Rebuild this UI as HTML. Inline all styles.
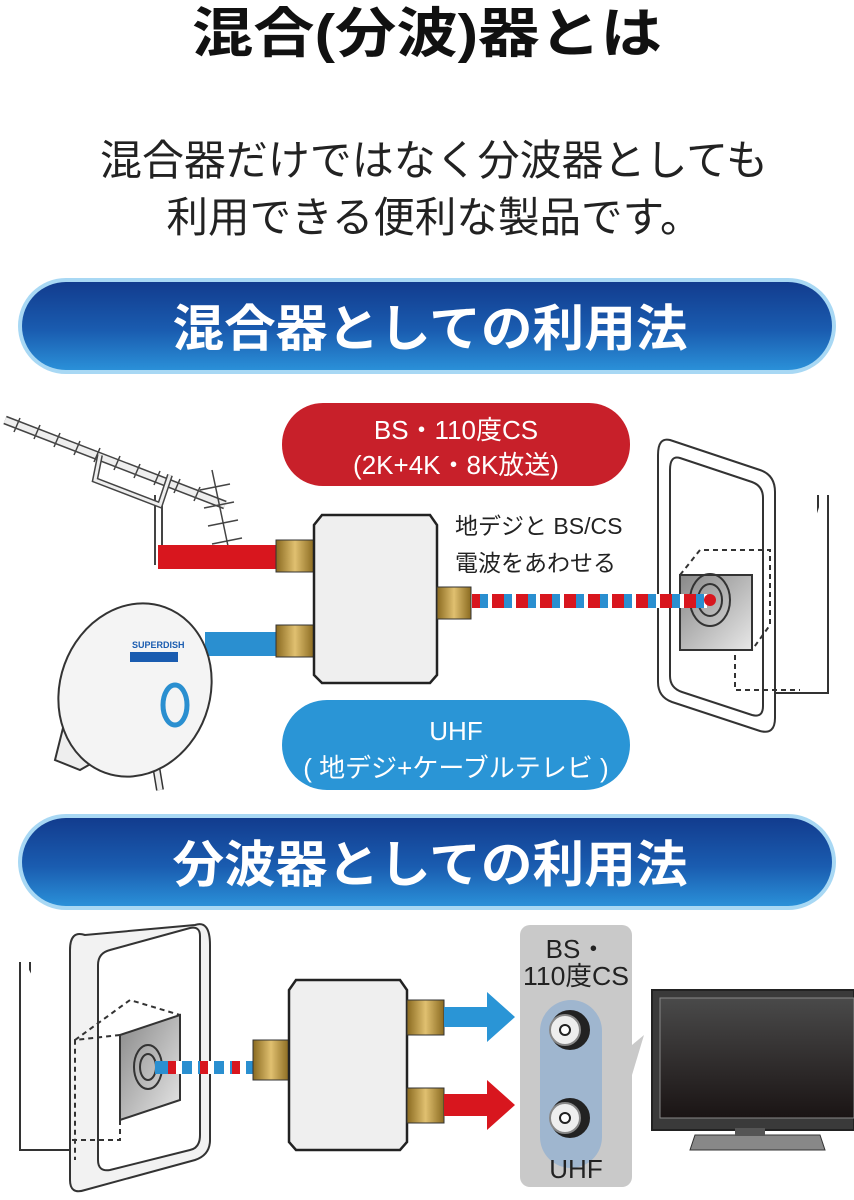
<!DOCTYPE html>
<html><head><meta charset="utf-8"><style>
html,body{margin:0;padding:0;background:#fff;}
svg{display:block;}
text{font-family:"Liberation Sans","Noto Sans CJK JP",sans-serif;}
</style></head><body>
<svg width="854" height="1200" viewBox="0 0 854 1200" xmlns="http://www.w3.org/2000/svg">
<defs>
<linearGradient id="ban" x1="0" y1="0" x2="0" y2="1">
<stop offset="0" stop-color="#123c8e"/><stop offset="0.55" stop-color="#1a5cb0"/><stop offset="1" stop-color="#2a90d8"/>
</linearGradient>
<linearGradient id="brass" x1="0" y1="0" x2="1" y2="0">
<stop offset="0" stop-color="#8a6a20"/><stop offset="0.5" stop-color="#e0c070"/><stop offset="1" stop-color="#8a6a20"/>
</linearGradient>
<linearGradient id="tv" x1="0" y1="0" x2="0" y2="1">
<stop offset="0" stop-color="#4a4a4a"/><stop offset="1" stop-color="#1a1414"/>
</linearGradient>
<linearGradient id="face" x1="0" y1="0" x2="1" y2="1">
<stop offset="0" stop-color="#888"/><stop offset="1" stop-color="#e8e8e8"/>
</linearGradient>
</defs>

<!-- Title -->
<text x="427" y="52" font-size="54" font-weight="bold" text-anchor="middle" fill="#111" textLength="470" lengthAdjust="spacingAndGlyphs">混合(分波)器とは</text>
<text x="434" y="175" font-size="42" text-anchor="middle" fill="#222" textLength="668" lengthAdjust="spacingAndGlyphs">混合器だけではなく分波器としても</text>
<text x="434" y="232" font-size="42" text-anchor="middle" fill="#222" textLength="535" lengthAdjust="spacingAndGlyphs">利用できる便利な製品です。</text>

<!-- Banner 1 -->
<rect x="18" y="278" width="818" height="96" rx="48" fill="#a8d8f4"/>
<rect x="22" y="282" width="810" height="88" rx="44" fill="url(#ban)"/>
<text x="430" y="346" font-size="50" font-weight="bold" text-anchor="middle" fill="#fff" textLength="515" lengthAdjust="spacingAndGlyphs">混合器としての利用法</text>

<!-- Yagi antenna -->
<g stroke="#444" stroke-width="1.5" fill="none">
<path d="M5 420 L225 505" stroke-width="9" stroke="#444"/>
<path d="M5 420 L225 505" stroke-width="6" stroke="#eee"/>
<path d="M20 418 l-6 14 M40 425 l-6 14 M60 433 l-6 14 M80 441 l-6 14 M100 448 l-6 14 M120 456 l-6 14 M140 464 l-6 14 M160 471 l-6 14 M180 479 l-6 14 M200 487 l-6 14"/>
<path d="M212 470 L232 565 M200 490 l30 -6 M204 508 l30 -6 M208 526 l30 -6 M212 544 l30 -6"/>
<path d="M155 495 L155 565 M162 495 L162 565" stroke-width="2"/>
<path d="M100 455 L95 480 L160 505 L170 475" stroke-width="6" stroke="#444"/>
<path d="M100 455 L95 480 L160 505 L170 475" stroke-width="3" stroke="#eee"/>
</g>
<rect x="158" y="545" width="118" height="24" fill="#d8161e"/>
<rect x="205" y="632" width="72" height="24" fill="#2a8fd0"/>

<!-- Dish -->
<g stroke="#333" stroke-width="2">
<path d="M70 700 L55 760 L80 770 L150 730" fill="#eee"/>
<path d="M150 730 L160 790" stroke-width="8"/>
<path d="M150 730 L160 790" stroke-width="5" stroke="#eee"/>
<ellipse cx="135" cy="690" rx="75" ry="88" transform="rotate(20 135 690)" fill="#f4f4f4"/>
</g>
<text x="132" y="648" font-size="9" fill="#1a5cb0" font-weight="bold">SUPERDISH</text>
<rect x="130" y="652" width="48" height="10" fill="#1a5cb0"/>
<ellipse cx="175" cy="705" rx="12" ry="20" fill="none" stroke="#2a8fd0" stroke-width="5"/>

<!-- Red pill -->
<rect x="282" y="403" width="348" height="83" rx="41" fill="#c8202a"/>
<text x="456" y="439" font-size="26" text-anchor="middle" fill="#fff">BS・110度CS</text>
<text x="456" y="474" font-size="26" text-anchor="middle" fill="#fff">(2K+4K・8K放送)</text>

<!-- Mixer box -->
<rect x="276" y="540" width="38" height="32" fill="url(#brass)" stroke="#333"/>
<rect x="276" y="625" width="38" height="32" fill="url(#brass)" stroke="#333"/>
<path d="M322 515 L430 515 L437 525 L437 675 L430 683 L322 683 L314 675 L314 525 Z" fill="#efefef" stroke="#222" stroke-width="2.5"/>
<rect x="437" y="587" width="34" height="32" fill="url(#brass)" stroke="#333"/>

<text x="455" y="534" font-size="23" fill="#222">地デジと BS/CS</text>
<text x="455" y="571" font-size="23" fill="#222">電波をあわせる</text>

<!-- Wall outlet right -->
<g stroke="#333" stroke-width="2" fill="#fff">
<path d="M823 495 L823 688 L760 688" stroke-width="12"/>
<path d="M823 495 L823 688 L760 688" stroke-width="8" stroke="#fff"/>
<path d="M670 440 L760 470 Q775 475 775 492 L775 718 Q775 735 760 731 L672 702 Q658 697 658 682 L658 455 Q658 437 670 440 Z"/>
<path d="M680 458 L752 482 Q763 486 763 498 L763 706 Q763 718 752 715 L682 692 Q670 688 670 676 L670 470 Q670 455 680 458 Z"/>
<path d="M680 575 L700 550 L770 550 L770 625 L752 650" fill="none" stroke-dasharray="5 4"/>
<path d="M735 655 L735 690 L800 690" fill="none" stroke-dasharray="5 4"/>
<rect x="680" y="575" width="72" height="75" fill="url(#face)"/>
<ellipse cx="710" cy="600" rx="20" ry="26" fill="none"/>
<ellipse cx="710" cy="600" rx="12" ry="16" fill="none"/>
</g>

<!-- dotted line -->
<rect x="472" y="594" width="235" height="14" fill="#d8161e"/>
<path d="M480 601 H707" stroke="#2a8fd0" stroke-width="14" stroke-dasharray="8 16"/>
<path d="M488 601 H707" stroke="#fff" stroke-width="14" stroke-dasharray="4 20"/>
<circle cx="710" cy="600" r="6" fill="#d8161e"/>

<!-- Blue pill -->
<rect x="282" y="700" width="348" height="90" rx="45" fill="#2a95d6"/>
<text x="456" y="740" font-size="26" text-anchor="middle" fill="#fff">UHF</text>
<text x="456" y="777" font-size="26" text-anchor="middle" fill="#fff">( 地デジ+ケーブルテレビ )</text>

<!-- Banner 2 -->
<rect x="18" y="814" width="818" height="96" rx="48" fill="#a8d8f4"/>
<rect x="22" y="818" width="810" height="88" rx="44" fill="url(#ban)"/>
<text x="430" y="882" font-size="50" font-weight="bold" text-anchor="middle" fill="#fff" textLength="515" lengthAdjust="spacingAndGlyphs">分波器としての利用法</text>

<!-- Wall outlet left -->
<g stroke="#333" stroke-width="2" fill="#fff">
<path d="M25 962 L25 1145 L120 1145" stroke-width="12"/>
<path d="M25 962 L25 1145 L120 1145" stroke-width="8" stroke="#fff"/>
<path d="M85 935 Q70 930 70 950 L70 1180 Q70 1195 85 1190 L195 1160 Q210 1155 210 1140 L210 945 Q210 920 195 925 Z" fill="#f2f2f2"/>
<path d="M110 950 L190 928 Q200 926 200 936 L200 1135 Q200 1148 190 1150 L110 1170 Q98 1172 98 1160 L98 965 Q98 953 110 950 Z"/>
<path d="M120 1035 L75 1040 L75 1160 M75 1040 L130 1000 L180 1015" fill="none" stroke-dasharray="5 4"/>
<path d="M120 1120 L120 1140 L70 1140" fill="none" stroke-dasharray="5 4"/>
<path d="M120 1035 L180 1015 L180 1100 L120 1120 Z" fill="url(#face)"/>
<ellipse cx="148" cy="1067" rx="14" ry="22" fill="none"/>
<ellipse cx="148" cy="1067" rx="8" ry="13" fill="none"/>
</g>
<rect x="155" y="1061" width="100" height="13" fill="#2a8fd0"/>
<path d="M168 1067.5 H255" stroke="#d8161e" stroke-width="13" stroke-dasharray="8 24"/>
<path d="M176 1067.5 H255" stroke="#fff" stroke-width="13" stroke-dasharray="6 10"/>

<!-- Splitter -->
<rect x="253" y="1040" width="36" height="40" fill="url(#brass)" stroke="#333"/>
<path d="M296 980 L400 980 L407 990 L407 1142 L400 1150 L296 1150 L289 1142 L289 990 Z" fill="#efefef" stroke="#222" stroke-width="2.5"/>
<rect x="407" y="1000" width="37" height="35" fill="url(#brass)" stroke="#333"/>
<rect x="407" y="1088" width="37" height="35" fill="url(#brass)" stroke="#333"/>
<path d="M444 1007 H487 V992 L515 1017 L487 1042 V1027 H444 Z" fill="#2a95d6"/>
<path d="M444 1094 H487 V1080 L515 1105 L487 1130 V1116 H444 Z" fill="#d8161e"/>

<!-- Gray panel -->
<rect x="520" y="925" width="112" height="262" rx="10" fill="#c9c9c9"/>
<path d="M632 1045 L644 1035 L632 1075 Z" fill="#c9c9c9"/>
<rect x="540" y="1000" width="62" height="168" rx="31" fill="#9fb6cf"/>
<text x="576" y="958" font-size="26" text-anchor="middle" fill="#222">BS・</text>
<text x="576" y="985" font-size="26" text-anchor="middle" fill="#222" textLength="106" lengthAdjust="spacingAndGlyphs">110度CS</text>
<text x="576" y="1178" font-size="26" text-anchor="middle" fill="#222">UHF</text>
<g stroke="#222" stroke-width="2">
<circle cx="570" cy="1030" r="19" fill="#222"/>
<circle cx="565" cy="1030" r="15" fill="#eee" stroke="#888"/>
<circle cx="565" cy="1030" r="5" fill="#fff"/>
<circle cx="570" cy="1118" r="19" fill="#222"/>
<circle cx="565" cy="1118" r="15" fill="#eee" stroke="#888"/>
<circle cx="565" cy="1118" r="5" fill="#fff"/>
</g>

<!-- TV -->
<rect x="652" y="990" width="202" height="140" fill="#3a3a3a" stroke="#222" stroke-width="2"/>
<rect x="660" y="998" width="194" height="120" fill="url(#tv)" stroke="#888" stroke-width="1"/>
<path d="M695 1135 L820 1135 L825 1150 L690 1150 Z" fill="#888" stroke="#333"/>
<rect x="735" y="1128" width="30" height="8" fill="#555"/>
</svg>
</body></html>
